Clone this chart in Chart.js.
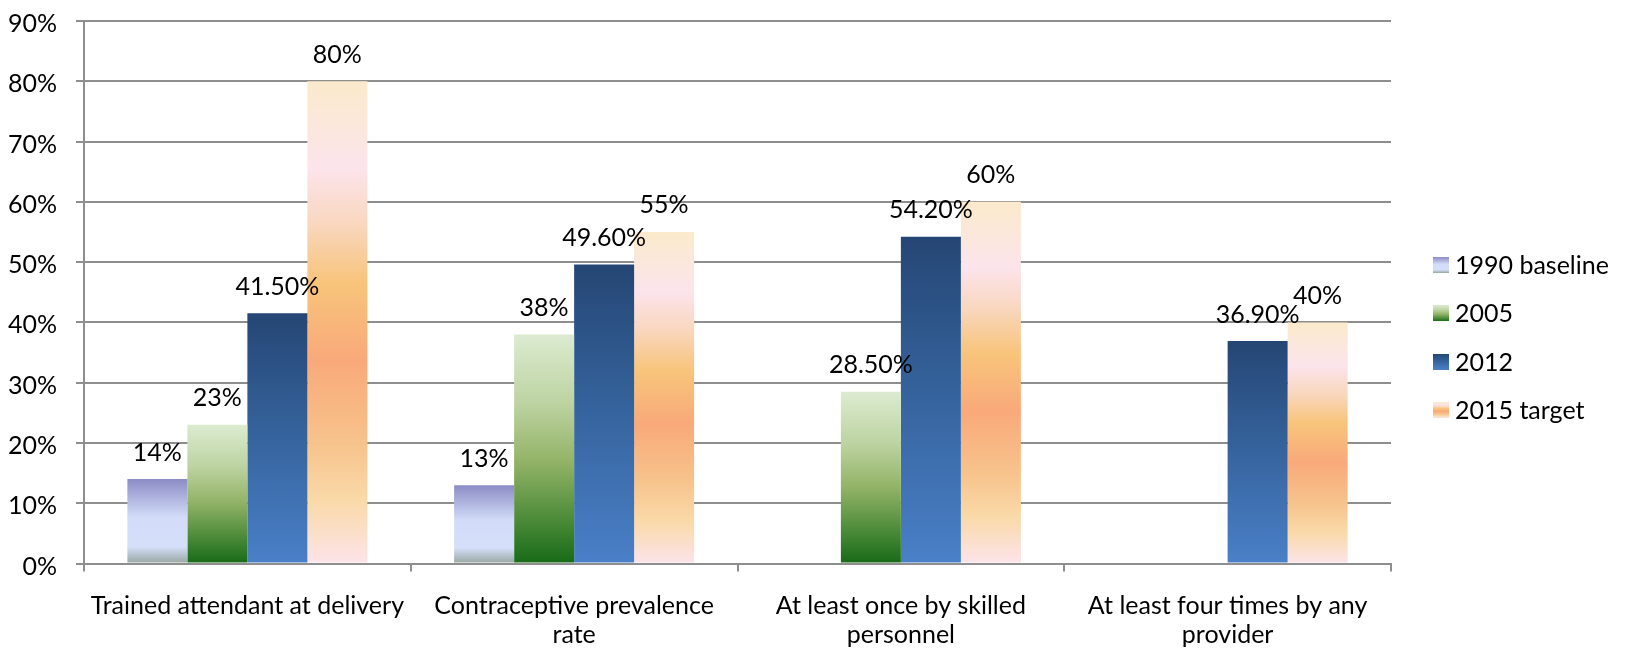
<!DOCTYPE html>
<html>
<head>
<meta charset="utf-8">
<script src="https://cdn.jsdelivr.net/npm/chart.js@4"></script>
<style>
  html, body { margin: 0; padding: 0; background: #fff; }
</style>
</head>
<body>
<canvas id="mdgChart" width="1625" height="651"></canvas>
<script>
// chart data
const categories = [
    'Trained attendant at delivery',
    ['Contraceptive prevalence', 'rate'],
    ['At least once by skilled', 'personnel'],
    ['At least four times by any', 'provider']
];
const seriesNames = ['1990 baseline', '2005', '2012', '2015 target'];
const baseline1990 = [14, 13, null, null];
const values2005 = [23, 38, 28.5, null];
const values2012 = [41.5, 49.6, 54.2, 36.9];
const target2015 = [80, 55, 60, 40];
const yMin = 0, yMax = 90, yStep = 10;

// vertical gradient stops for each series (top -> bottom)
const gradientStops = [
    [[0, '#8c8cc6'], [0.45, '#d2dcf8'], [0.8, '#d5dffa'], [0.9, '#b6c2cc'], [1, '#98a6a0']],
    [[0, '#dcebd0'], [0.3, '#bdd3a2'], [0.55, '#94b468'], [0.8, '#4e8c3a'], [1, '#176a17']],
    [[0, '#254674'], [0.5, '#36649e'], [1, '#4a80c8']],
    [[0, '#fbeacb'], [0.18, '#fce4ec'], [0.3, '#f9d6bc'], [0.42, '#f8c47a'], [0.58, '#f9a97a'],
     [0.75, '#f7c38c'], [0.87, '#fad9a8'], [1, '#fce4ea']]
];

document.addEventListener('DOMContentLoaded', function () {
    const canvas = document.getElementById('mdgChart');
    const fontFamily = 'Lato';
    const fontSize = 25;

    Chart.defaults.font.family = fontFamily;
    Chart.defaults.font.size = fontSize;
    Chart.defaults.color = '#000';

    function formatPct(v) {
        return Number.isInteger(v) ? v + '%' : v.toFixed(2) + '%';
    }

    function barGradient(seriesIndex) {
        return function (ctx) {
            const fallback = gradientStops[seriesIndex][1][1];
            if (ctx.type !== 'data' || ctx.raw == null) return fallback;
            const yScale = ctx.chart.scales.y;
            if (!yScale) return fallback;
            const top = yScale.getPixelForValue(ctx.raw);
            const bottom = yScale.getPixelForValue(0);
            if (!isFinite(top) || !isFinite(bottom) || top === bottom) return fallback;
            const g = ctx.chart.ctx.createLinearGradient(0, top, 0, bottom);
            gradientStops[seriesIndex].forEach(s => g.addColorStop(s[0], s[1]));
            return g;
        };
    }

    // little gradient swatches for the legend
    function swatch(seriesIndex) {
        const c = document.createElement('canvas');
        c.width = 16; c.height = 16;
        const cx = c.getContext('2d');
        const g = cx.createLinearGradient(0, 0, 0, 16);
        gradientStops[seriesIndex].forEach(s => g.addColorStop(s[0], s[1]));
        cx.fillStyle = g;
        cx.fillRect(0, 0, 16, 16);
        return c;
    }

    const barLabels = {
        id: 'barLabels',
        afterDatasetsDraw(chart) {
            const ctx = chart.ctx;
            ctx.save();
            ctx.font = fontSize + 'px ' + fontFamily;
            ctx.fillStyle = '#000';
            ctx.textAlign = 'center';
            ctx.textBaseline = 'alphabetic';
            chart.data.datasets.forEach((ds, i) => {
                chart.getDatasetMeta(i).data.forEach((bar, j) => {
                    const v = ds.data[j];
                    if (v == null) return;
                    ctx.fillText(formatPct(v), bar.x, bar.y - 18.5);
                });
            });
            ctx.restore();
        }
    };

    const sideLegend = {
        id: 'sideLegend',
        afterDraw(chart) {
            const ctx = chart.ctx;
            const x = chart.chartArea.right + 42;
            const y0 = 265;
            const gap = 48.3;
            ctx.save();
            ctx.font = fontSize + 'px ' + fontFamily;
            ctx.fillStyle = '#000';
            ctx.textAlign = 'left';
            ctx.textBaseline = 'middle';
            seriesNames.forEach((name, i) => {
                const y = y0 + i * gap;
                ctx.drawImage(swatch(i), x, y - 8);
                ctx.fillText(name, x + 22, y + 1);
            });
            ctx.restore();
        }
    };

    const seriesData = [baseline1990, values2005, values2012, target2015];

    new Chart(canvas.getContext('2d'), {
        type: 'bar',
        data: {
            labels: categories,
            datasets: seriesData.map((d, i) => ({
                label: seriesNames[i],
                data: d,
                backgroundColor: barGradient(i),
                borderWidth: 0,
                categoryPercentage: 0.7345,
                barPercentage: 1.0
            }))
        },
        options: {
            responsive: false,
            animation: false,
            layout: { padding: { top: 21, right: 234, bottom: 0, left: 0 } },
            plugins: {
                legend: { display: false },
                tooltip: { enabled: false }
            },
            scales: {
                x: {
                    grid: {
                        offset: true,
                        drawOnChartArea: false,
                        drawTicks: true,
                        tickLength: 8,
                        color: '#8e8e8e',
                        lineWidth: 2
                    },
                    border: { display: true, color: '#8e8e8e', width: 2 },
                    ticks: {
                        padding: 20,
                        maxRotation: 0,
                        autoSkip: false,
                        font: { size: fontSize, lineHeight: 1.16 }
                    },
                    afterFit(scale) { scale.height = 87.5; }
                },
                y: {
                    min: yMin,
                    max: yMax,
                    grid: {
                        color: '#8e8e8e',
                        lineWidth: 2,
                        tickLength: 8
                    },
                    border: { display: true, color: '#8e8e8e', width: 2 },
                    ticks: {
                        stepSize: yStep,
                        padding: 19,
                        labelOffset: 3,
                        callback: v => v + '%'
                    },
                    afterFit(scale) {
                        scale.width = 84;
                        // keep tick padding from pushing the plot area down
                        scale.paddingTop = 0;
                        scale.paddingBottom = 0;
                    }
                }
            }
        },
        plugins: [barLabels, sideLegend]
    });
});
</script>
</body>
</html>
